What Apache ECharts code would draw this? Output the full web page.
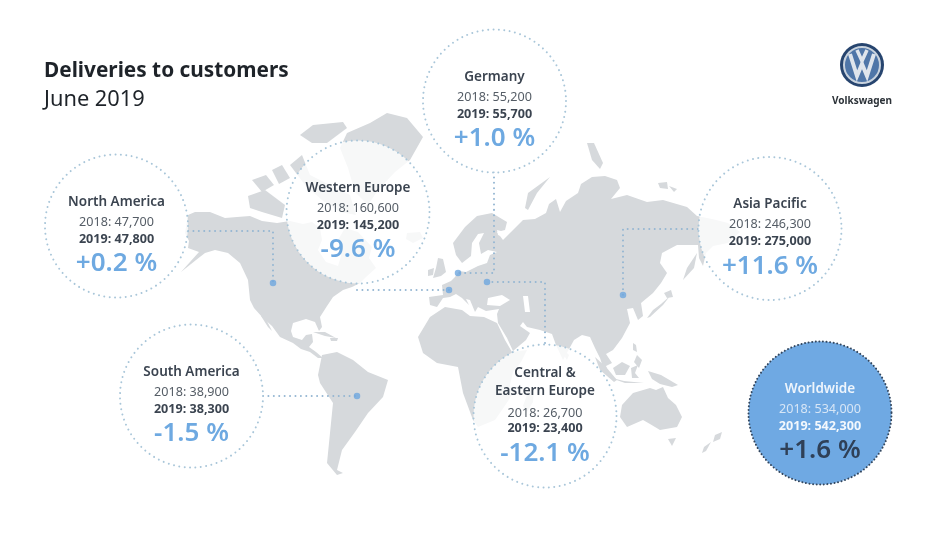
<!DOCTYPE html>
<html><head><meta charset="utf-8">
<style>html,body{margin:0;padding:0;background:#fff}#c{width:928px;height:550px}</style>
<script src="https://cdn.jsdelivr.net/npm/echarts@6/dist/echarts.min.js"></script>
</head><body><div id="c"></div>
<script>
const titleText = "Deliveries to customers";
const subtitleText = "June 2019";
const brandName = "Volkswagen";
const regions = ["Germany","Western Europe","North America","Asia Pacific","South America","Central &\nEastern Europe","Worldwide"];
const values2018 = [55200,160600,47700,246300,38900,26700,534000];
const values2019 = [55700,145200,47800,275000,38300,23400,542300];
const changePct = [1.0,-9.6,0.2,11.6,-1.5,-12.1,1.6];

const bubbleX = [494.5,358,116.5,770,191.5,545,820];
const bubbleY = [101,212,226,228.5,396,416,413];
const connectors = [
  [[494,172],[494,273],[458,273]],
  [[357,290],[449,290]],
  [[188,231],[273,231],[273,283]],
  [[698,229],[623,229],[623,295]],
  [[263,396],[357,396]],
  [[545,343],[545,282],[487,282]]
];
const land = [
 // North America
 [[188,215],[195,212],[210,212],[225,218],[237,217],[250,216],[262,221],[277,223],[290,221],[303,224],[312,222],[320,228],[322,240],[318,250],[326,262],[338,266],[341,256],[338,240],[345,228],[358,232],[372,247],[369,258],[376,268],[366,277],[360,283],[352,287],[343,290],[333,297],[327,306],[320,317],[322,327],[319,331],[315,322],[306,319],[293,323],[291,331],[293,337],[302,340],[306,335],[312,334],[313,342],[309,347],[316,352],[323,358],[318,358],[310,352],[301,349],[293,343],[280,337],[272,326],[263,318],[254,308],[250,300],[248,280],[240,263],[228,253],[215,250],[205,253],[196,260],[181,272],[190,262],[199,252],[188,248],[189,241],[185,233]],
 // Baja
 [[264,315],[272,331],[268,327],[261,316]],
 // Cuba / Hispaniola
 [[313,332],[325,332],[336,338],[325,336]],[[330,338],[338,338],[337,341],[331,341]],
 // Arctic Canada
 [[248,196],[265,190],[285,205],[282,218],[262,212],[250,208]],
 [[252,180],[266,175],[274,185],[262,192]],[[272,170],[282,165],[290,178],[279,184]],
 [[290,165],[302,155],[310,175],[320,180],[350,195],[356,215],[340,212],[322,200],[305,185]],
 [[300,135],[313,125],[343,122],[347,128],[327,143],[312,143]],
 // Greenland
 [[347,133],[370,123],[387,113],[407,118],[423,137],[410,160],[395,172],[378,190],[368,205],[355,192],[348,168],[340,148]],
 // Iceland
 [[407,233],[420,232],[423,238],[413,243],[406,239]],
 // Eurasia
 [[430,305],[429,297],[443,295],[442,285],[451,281],[455,277],[459,271],[466,272],[478,266],[487,263],[490,255],[497,252],[488,250],[481,254],[479,243],[484,233],[478,234],[472,243],[471,256],[462,263],[456,255],[453,243],[465,227],[477,216],[492,213],[507,222],[505,230],[497,232],[503,240],[511,232],[523,220],[535,219],[546,213],[549,204],[556,199],[560,212],[566,201],[578,193],[581,184],[592,177],[605,176],[617,180],[620,188],[611,199],[627,195],[647,202],[663,200],[687,207],[697,216],[712,219],[728,223],[740,232],[728,243],[713,246],[706,253],[703,266],[699,258],[698,245],[677,245],[662,253],[660,263],[667,273],[661,283],[653,293],[641,303],[643,316],[638,320],[633,308],[627,309],[630,323],[622,338],[613,350],[606,354],[612,363],[606,366],[611,378],[604,370],[600,358],[595,348],[590,337],[582,335],[574,340],[563,360],[556,345],[552,334],[540,330],[527,327],[523,322],[520,326],[530,333],[526,340],[513,351],[507,338],[498,323],[497,314],[499,309],[486,311],[478,307],[475,312],[470,300],[466,299],[469,305],[462,298],[456,294],[450,297],[443,298],[437,307]],
 // Africa
 [[418,337],[430,317],[445,307],[462,310],[470,316],[484,317],[497,323],[505,340],[512,352],[527,350],[521,362],[513,372],[510,385],[512,395],[502,410],[495,420],[478,427],[473,420],[463,393],[458,367],[437,363],[423,353]],
 // Madagascar
 [[528,392],[534,388],[533,402],[527,412],[523,406]],
 // UK & Ireland
 [[436,268],[438,258],[443,259],[446,272],[441,276],[433,278]],[[428,270],[434,268],[433,275],[428,276]],
 // Svalbard, Novaya Zemlya, Franz Josef
 [[587,143],[594,143],[603,163],[600,169],[592,160]],
 [[525,208],[528,193],[550,177],[537,193],[528,210]],
 [[658,183],[667,182],[668,189],[660,188]],[[669,186],[677,189],[674,192]],
 // Sakhalin & Japan
 [[697,253],[694,268],[683,280],[687,268]],
 [[670,296],[663,305],[650,317],[647,318],[653,310],[661,304]],[[664,293],[671,290],[673,297],[667,298]],
 // Philippines, Taiwan
 [[633,343],[636,345],[637,352],[633,350]],[[637,355],[642,360],[639,368],[634,362]],
 // Sumatra, Java, Borneo, Sulawesi, New Guinea
 [[595,357],[606,367],[617,380],[614,382],[600,370]],[[608,377],[624,381],[644,383],[625,383]],
 [[613,368],[622,362],[630,366],[625,375],[616,375]],[[631,368],[638,365],[635,373],[639,378],[632,378]],
 [[648,371],[661,375],[678,385],[672,387],[660,384],[652,379]],
 // Sri Lanka
 [[566,352],[569,355],[567,360],[565,357]],
 // Australia
 [[622,405],[633,393],[650,388],[656,390],[663,387],[668,398],[676,405],[682,417],[677,427],[660,430],[650,424],[643,420],[627,427],[620,417]],
 [[668,439],[676,438],[672,446]],
 // New Zealand
 [[722,432],[720,439],[713,442],[715,435]],[[711,442],[706,451],[702,453],[704,447]],
 // South America
 [[318,375],[322,355],[337,352],[353,360],[368,372],[388,380],[383,397],[368,413],[355,432],[342,450],[337,470],[343,473],[337,475],[327,463],[330,433],[333,403],[320,383]]
];
const waters = [
 [[488,298],[502,295],[510,300],[500,306],[487,305]],
 [[523,296],[528,296],[530,312],[525,312]],
 [[497,230],[505,232],[503,237],[498,235]]
];

const LAND="#d6d9dc", INK="#3b4450", BLUE="#6ea9e1", DOT="#94b6d2", RING="#a9c6d9";
function fmt(v){return v.toLocaleString('en-US');}
function pct(v){return (v>=0?'+':'-')+Math.abs(v).toFixed(1)+' %';}

const lineSeries = connectors.map(c=>({
  type:'line',data:c,symbol:'none',silent:true,z:3,
  lineStyle:{color:DOT,width:2,type:[0.01,5.4],cap:'round'}
}));
const dots = connectors.map(c=>[c[c.length-1][0],c[c.length-1][1]]);

function textEl(x,y,t,size,weight,fill){
  return {type:'text',x:x,y:y,style:{text:t,font:weight+' '+size+'px "Noto Sans"',fill:fill,align:'center',verticalAlign:'middle'}};
}
const opt = {
  animation:false,backgroundColor:'#fff',
  grid:{left:0,right:0,top:0,bottom:0},
  xAxis:{type:'value',min:0,max:928,show:false},
  yAxis:{type:'value',min:0,max:550,inverse:true,show:false},
  series:[
    {type:'custom',silent:true,z:1,clip:false,data:land.map((_,i)=>[i]),encode:{x:[],y:[]},
     renderItem:(p,api)=>({type:'polygon',shape:{points:land[api.value(0)].map(q=>api.coord(q))},style:{fill:LAND}})},
    {type:'custom',silent:true,z:2,clip:false,data:waters.map((_,i)=>[i]),encode:{x:[],y:[]},
     renderItem:(p,api)=>({type:'polygon',shape:{points:waters[api.value(0)].map(q=>api.coord(q))},style:{fill:'#fff'}})},
    ...lineSeries,
    {type:'scatter',data:dots,symbol:'circle',symbolSize:6.5,itemStyle:{color:'#6ea6de'},z:4,silent:true},
    {type:'custom',silent:true,z:5,clip:false,
     data:regions.map((_,i)=>[bubbleX[i],bubbleY[i],i]),encode:{x:0,y:1},
     renderItem:(p,api)=>{
       const i=api.value(2),c=api.coord([api.value(0),api.value(1)]),x=c[0],y=c[1];
       const world=regions[i]==="Worldwide";
       const two=regions[i].includes("\n");
       const kids=[{type:'circle',shape:{cx:x,cy:y,r:71.5},
         style:{fill:world?'#6fa9e3':'rgba(255,255,255,0.8)',stroke:world?'#33475f':RING,lineWidth:2,lineDash:world?[0.01,3.6]:[0.01,5.4],lineCap:'round'}}];
       const nameC=world?'#eef5fc':INK, c18=world?'#d7e6f6':'#555d66', c19=world?'#f3f8fd':INK, cP=world?'#2f4057':BLUE;
       const off=two?[-43,-25,-3,12,38]:[-24,-4,13,38];
       const S=12.6,N=13.5,P=26;
       if(two){
         const n=regions[i].split("\n");
         kids.push(textEl(x,y+off[0],n[0],N,600,nameC),textEl(x,y+off[1],n[1],N,600,nameC));
         kids.push(textEl(x,y+off[2],'2018: '+fmt(values2018[i]),S,400,c18));
         kids.push(textEl(x,y+off[3],'2019: '+fmt(values2019[i]),S,700,c19));
         kids.push(textEl(x,y+off[4],pct(changePct[i]),P,600,cP));
       } else {
         kids.push(textEl(x,y+off[0],regions[i],N,600,nameC));
         kids.push(textEl(x,y+off[1],'2018: '+fmt(values2018[i]),S,400,c18));
         kids.push(textEl(x,y+off[2],'2019: '+fmt(values2019[i]),S,700,c19));
         kids.push(textEl(x,y+off[3],pct(changePct[i]),P,600,cP));
       }
       return {type:'group',children:kids};
     }}
  ],
  graphic:[
    {type:'text',left:44,top:61,style:{text:titleText,font:'700 20.8px "Noto Sans"',fill:'#1e2329'}},
    {type:'text',left:44,top:89,style:{text:subtitleText,font:'400 21.8px "Noto Sans"',fill:'#1e2329'}},
    {type:'group',left:840,top:43,children:[
      {type:'circle',shape:{cx:22,cy:22,r:22},style:{fill:'#27456f'}},
      {type:'circle',shape:{cx:22,cy:22,r:18},style:{fill:'#4f76a8',stroke:'#c9d3de',lineWidth:2}},
      {type:'polyline',shape:{points:[[10,11],[17,33],[22,21],[27,33],[34,11]]},style:{fill:'none',stroke:'#dfe5ec',lineWidth:4}},
      {type:'polyline',shape:{points:[[17,7],[22,18],[27,7]]},style:{fill:'none',stroke:'#dfe5ec',lineWidth:3.5}}
    ]},
    {type:'text',left:832,top:96,style:{text:brandName,font:'700 10px "Noto Sans"',fill:'#2c3238'}}
  ]
};
echarts.init(document.getElementById('c'),null,{renderer:'canvas'}).setOption(opt);
</script></body></html>
